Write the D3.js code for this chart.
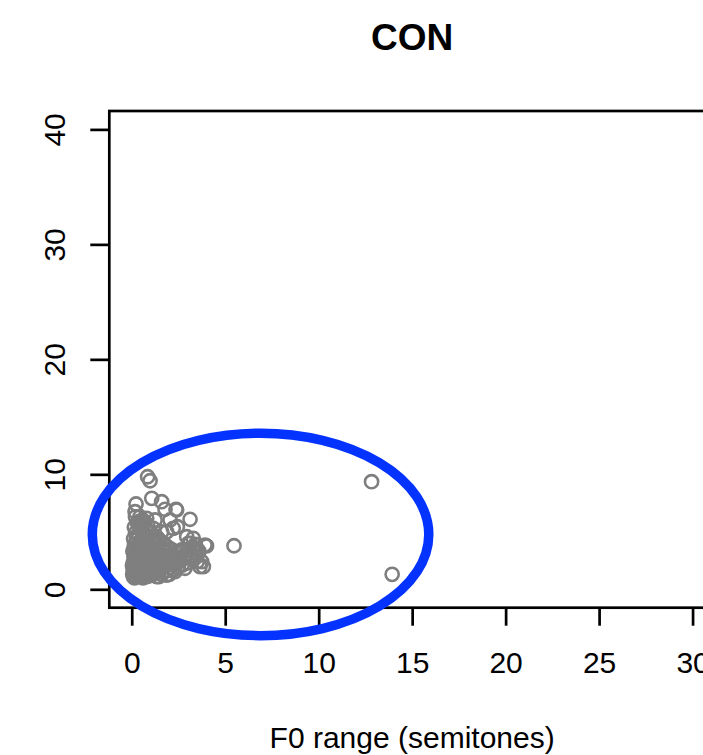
<!DOCTYPE html>
<html>
<head>
<meta charset="utf-8">
<script src="https://cdn.jsdelivr.net/npm/d3@7"></script>
<style>
  body { margin: 0; background: #fff; }
  text { font-family: "Liberation Sans", Arial, Helvetica, sans-serif; }
</style>
</head>
<body>
<svg id="chart"></svg>
<script>
// tick labels
var xTicks = [0, 5, 10, 15, 20, 25, 30];
var yTicks = [0, 10, 20, 30, 40];

// points away from the dense cluster, [F0 range, value]
var sparsePoints = [
  [0.85, 9.79], [0.98, 9.44], [1.07, 7.91], [1.6, 7.62], [1.78, 6.96], [2.37, 6.96],
  [0.23, 7.42], [3.12, 6.09], [2.44, 5.44], [1.6, 5.0], [2.94, 4.57], [4.0, 3.77],
  [5.47, 3.79], [12.83, 9.36], [13.93, 1.3], [3.83, 1.97], [3.74, 2.4], [3.47, 2.84],
  [3.29, 3.56], [3.12, 4.0], [2.67, 3.42], [2.31, 1.53], [1.87, 1.24], [1.34, 1.1],
  [0.8, 1.1], [0.09, 1.1], [0.18, 6.75], [0.44, 6.31], [0.8, 6.17], [1.25, 6.03],
  [2.05, 6.03], [2.22, 5.3], [1.15, 5.3], [2.4, 6.9], [1.87, 5.0], [3.29, 4.43],
  [3.03, 4.0], [3.92, 3.85], [3.65, 1.97], [3.29, 2.55], [2.58, 3.27], [2.22, 2.4],
  [2.85, 1.83], [3.47, 3.56]
];

// dense cluster near the origin
var clusterPoints = [
  [0.05, 1.3], [0.1, 1.8], [0.08, 2.3], [0.12, 2.8], [0.06, 3.3], [0.15, 3.9],
  [0.1, 4.4], [0.2, 4.9], [0.14, 5.4], [0.3, 5.8], [0.22, 1.1], [0.25, 1.6],
  [0.3, 2.1], [0.28, 2.6], [0.35, 3.1], [0.32, 3.6], [0.4, 4.1], [0.38, 4.6],
  [0.45, 5.2], [0.5, 5.6], [0.5, 1.2], [0.55, 1.7], [0.6, 2.2], [0.52, 2.7],
  [0.65, 3.2], [0.58, 3.7], [0.7, 4.2], [0.62, 4.8], [0.75, 5.3], [0.68, 5.9],
  [0.8, 1.4], [0.85, 1.9], [0.78, 2.4], [0.9, 2.9], [0.82, 3.4], [0.95, 3.9],
  [0.88, 4.5], [0.92, 5.0], [1.0, 1.2], [1.05, 1.6], [1.1, 2.1], [1.02, 2.6],
  [1.15, 3.1], [1.08, 3.6], [1.2, 4.1], [1.12, 4.6], [1.25, 1.4], [1.3, 1.9],
  [1.35, 2.4], [1.28, 2.9], [1.4, 3.4], [1.32, 3.9], [1.45, 1.1], [1.5, 1.7],
  [1.48, 2.2], [1.55, 2.7], [1.42, 4.4], [1.6, 1.3], [1.65, 1.9], [1.7, 2.4],
  [1.62, 3.0], [1.75, 3.5], [1.85, 1.6], [1.9, 2.1], [1.95, 2.7], [1.8, 3.2],
  [2.0, 1.3], [2.05, 1.9], [2.1, 2.5], [2.15, 3.0], [2.25, 1.7], [2.3, 2.2],
  [2.4, 2.8], [2.5, 2.0], [2.6, 2.5], [2.7, 2.1], [2.8, 2.7], [2.9, 3.1],
  [3.0, 2.3], [3.1, 3.5], [3.2, 2.8], [3.35, 3.2], [3.5, 2.4], [3.4, 3.9],
  [3.6, 3.3], [0.15, 1.5], [0.4, 1.4], [0.7, 1.6], [0.25, 2.0], [0.45, 2.5],
  [0.2, 3.0], [0.42, 3.5], [0.25, 4.3], [0.55, 4.4], [0.7, 3.0], [0.9, 2.2],
  [1.2, 2.7], [0.35, 1.9], [0.6, 1.0], [0.15, 1.0], [1.1, 1.4], [0.75, 2.7],
  [0.5, 3.3], [0.3, 4.7], [0.6, 5.1], [0.4, 5.9], [0.2, 6.3], [0.55, 6.0],
  [0.85, 5.6], [1.0, 4.9], [1.3, 4.6], [1.5, 4.2], [1.7, 4.0], [1.9, 3.7],
  [2.1, 3.5], [2.3, 3.3], [0.08, 1.55], [0.18, 2.45], [0.12, 3.55], [0.36, 2.35],
  [0.48, 2.05], [0.66, 2.55], [0.74, 1.25], [0.96, 1.75], [1.18, 2.35], [1.38, 1.55],
  [0.32, 1.3], [0.58, 1.45], [0.04, 2.05], [0.27, 3.35], [0.46, 3.85], [0.63, 4.05],
  [0.84, 4.25], [1.04, 4.25], [1.24, 3.55], [1.56, 2.35], [1.78, 2.05], [2.02, 2.25]
];

// highlighted region (centre and radii in data units)
var ellipseCenter = [6.89, 4.77];
var ellipseRadii = [9.0, 8.8];

var width = 703;
var height = 755;

var plotLeft = 109.3, plotTop = 111, plotRight = 715, plotBottom = 607.7;

var svg = d3.select("#chart")
    .attr("width", width)
    .attr("height", height);

var x = d3.scaleLinear().domain([-1.2, 31.2]).range([plotLeft, plotRight]);
var y = d3.scaleLinear().domain([-1.6, 41.6]).range([plotBottom, plotTop]);

// x axis
var gx = svg.append("g")
    .attr("transform", "translate(0," + plotBottom + ")")
    .call(d3.axisBottom(x).tickValues(xTicks).tickSize(18).tickPadding(26.3));
gx.select(".domain").remove();
gx.selectAll("line").attr("stroke", "#000").attr("stroke-width", 2.7);
gx.selectAll("text")
    .style("font-size", "30px")
    .attr("fill", "#000");

// y axis
var gy = svg.append("g")
    .attr("transform", "translate(" + plotLeft + ",0)")
    .call(d3.axisLeft(y).tickValues(yTicks).tickSize(19));
gy.select(".domain").remove();
gy.selectAll("line").attr("stroke", "#000").attr("stroke-width", 2.7);
gy.selectAll("text")
    .attr("x", null)
    .attr("dy", null)
    .attr("text-anchor", "middle")
    .attr("transform", "translate(-44,0) rotate(-90)")
    .style("font-size", "30px")
    .attr("fill", "#000");

// plot box
svg.append("rect")
    .attr("x", plotLeft)
    .attr("y", plotTop)
    .attr("width", plotRight - plotLeft)
    .attr("height", plotBottom - plotTop)
    .attr("fill", "none")
    .attr("stroke", "#000")
    .attr("stroke-width", 2.7);

// points
var allPoints = clusterPoints.concat(sparsePoints);
svg.append("g").selectAll("circle")
    .data(allPoints)
    .enter().append("circle")
    .attr("cx", function (d) { return x(d[0]); })
    .attr("cy", function (d) { return y(d[1]); })
    .attr("r", 6.6)
    .attr("fill", "none")
    .attr("stroke", "#7f7f7f")
    .attr("stroke-width", 2.6);

// blue ellipse
svg.append("ellipse")
    .attr("cx", x(ellipseCenter[0]))
    .attr("cy", y(ellipseCenter[1]))
    .attr("rx", x(ellipseCenter[0] + ellipseRadii[0]) - x(ellipseCenter[0]))
    .attr("ry", y(ellipseCenter[1]) - y(ellipseCenter[1] + ellipseRadii[1]))
    .attr("fill", "none")
    .attr("stroke", "#0433ff")
    .attr("stroke-width", 9.5);

// title
svg.append("text")
    .attr("x", (plotLeft + plotRight) / 2)
    .attr("y", 49.5)
    .attr("text-anchor", "middle")
    .style("font-size", "37px")
    .style("font-weight", "bold")
    .text("CON");

// x label
svg.append("text")
    .attr("x", (plotLeft + plotRight) / 2)
    .attr("y", 748.3)
    .attr("text-anchor", "middle")
    .style("font-size", "30px")
    .text("F0 range (semitones)");
</script>
</body>
</html>
